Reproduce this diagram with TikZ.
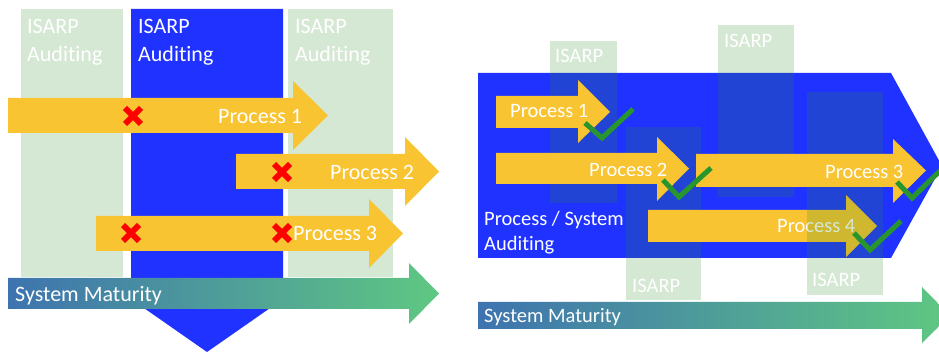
\documentclass[tikz,border=0pt]{standalone}
\usepackage{fontspec}
\setmainfont{Carlito}[Ligatures=NoCommon]
\usepackage{tikz}
\usetikzlibrary{positioning}

\definecolor{auditblue}{RGB}{32,50,255}
\definecolor{procgold}{RGB}{248,196,50}
\definecolor{isarpgreen}{RGB}{45,140,40}
\definecolor{matstart}{RGB}{62,115,175}
\definecolor{matend}{RGB}{95,200,130}
\definecolor{okgreen}{RGB}{40,150,45}

\begin{document}
\begin{tikzpicture}[x=1pt,y=-1pt,
  isarp/.style={fill=isarpgreen,fill opacity=0.2},
  proc/.style={fill=procgold},
  lbl/.style={text=white,inner sep=0pt,anchor=base west},
  bigtxt/.style={lbl,font=\fontsize{22}{26}\selectfont},
  smalltxt/.style={lbl,font=\fontsize{20.5}{24}\selectfont},
  redx/.style={red,line width=6pt},
  okmark/.style={okgreen,line width=5pt}]
\useasboundingbox (0,0) rectangle (939,352);
\foreach \xa/\xb in {21/123,288/393}{
\fill[isarp] (\xa,9) rectangle (\xb,277);
}
\fill[auditblue] (131,9) -- (283,9) -- (283,299) -- (207,352) -- (131,299) -- cycle;
\foreach \xa/\xb/\xt/\ya/\yb/\ha/\hb in {8/293/328/98/133/81/150,236/405/439/154/189/137/206,96/369/403/216/251/199/268}{
\fill[proc] (\xa,\ya) -- (\xb,\ya) -- (\xb,\ha) -- (\xt,{(\ya+\yb)/2}) -- (\xb,\hb) -- (\xb,\yb) -- (\xa,\yb) -- cycle;
}
\foreach \x/\y in {133/116,282/172,131/233,282/233}{
\draw[redx] (\x-8,\y-8) -- (\x+8,\y+8) (\x-8,\y+8) -- (\x+8,\y-8);
}
\shade[left color=matstart,right color=matend] (8,278) -- (409,278) -- (409,263) -- (439,293.5) -- (409,324) -- (409,309) -- (8,309) -- cycle;
\node[bigtxt] (isarpL) at (27,34) {ISARP};
\node[bigtxt] (auditL) at (27,62) {Auditing};
\node[bigtxt] (isarpM) at (138,34) {ISARP};
\node[bigtxt] (auditM) at (138,62) {Auditing};
\node[bigtxt] (isarpR) at (295,34) {ISARP};
\node[bigtxt] (auditR) at (295,62) {Auditing};
\node[bigtxt] (procL1) at (218,124) {Process 1};
\node[bigtxt] (procL2) at (330,180) {Process 2};
\node[bigtxt] (procL3) at (293,241) {Process 3};
\node[bigtxt] (matL) at (15,302) {System Maturity};
% right side
\fill[auditblue] (478,73) -- (891,73) -- (942,166) -- (891,258) -- (478,258) -- cycle;
\foreach \xa/\ya/\xb/\yb in {550/41/617/203,626/127/701/300,718/25/794/197}{
\fill[isarp] (\xa,\ya) rectangle (\xb,\yb);
}
\fill[proc] (648,210) -- (846,210) -- (846,195) -- (877,226) -- (846,257) -- (846,242) -- (648,242) -- cycle;
\node[smalltxt] (procR4) at (777,233) {Process 4};
\fill[isarp] (807,92) rectangle (883,295);
\foreach \xa/\xb/\xt/\ya/\yb/\ha/\hb in {496/578/610/96/128/80/143,496/657/689/153/184/137/201,696/893/926/154/187/139/203}{
\fill[proc] (\xa,\ya) -- (\xb,\ya) -- (\xb,\ha) -- (\xt,{(\ya+\yb)/2}) -- (\xb,\hb) -- (\xb,\yb) -- (\xa,\yb) -- cycle;
}
\node[smalltxt] (procR1) at (510,118) {Process 1};
\node[smalltxt] (procR2) at (589,177) {Process 2};
\node[smalltxt] (procR3) at (825,179) {Process 3};
\draw[okmark] (585,123) -- (602,138) -- (633,109);
\draw[okmark] (663,180) -- (679,197) -- (711,168);
\draw[okmark] (897,182) -- (912,198) -- (945,166);
\draw[okmark] (854,233) -- (870,250) -- (901,221);
\node[smalltxt] (isarp1) at (555,63) {ISARP};
\node[smalltxt] (isarp2) at (632,293) {ISARP};
\node[smalltxt] (isarp3) at (724,48) {ISARP};
\node[smalltxt] (isarp4) at (812,287) {ISARP};
\node[smalltxt] (psaudit) at (484,226) {Process / System};
\node[smalltxt] (psaudit2) at (484,251) {Auditing};
\shade[left color=matstart,right color=matend] (478,302) -- (922,302) -- (922,287) -- (950,315.5) -- (922,343) -- (922,329) -- (478,329) -- cycle;
\node[smalltxt] (matR) at (484,323) {System Maturity};
\end{tikzpicture}
\end{document}
